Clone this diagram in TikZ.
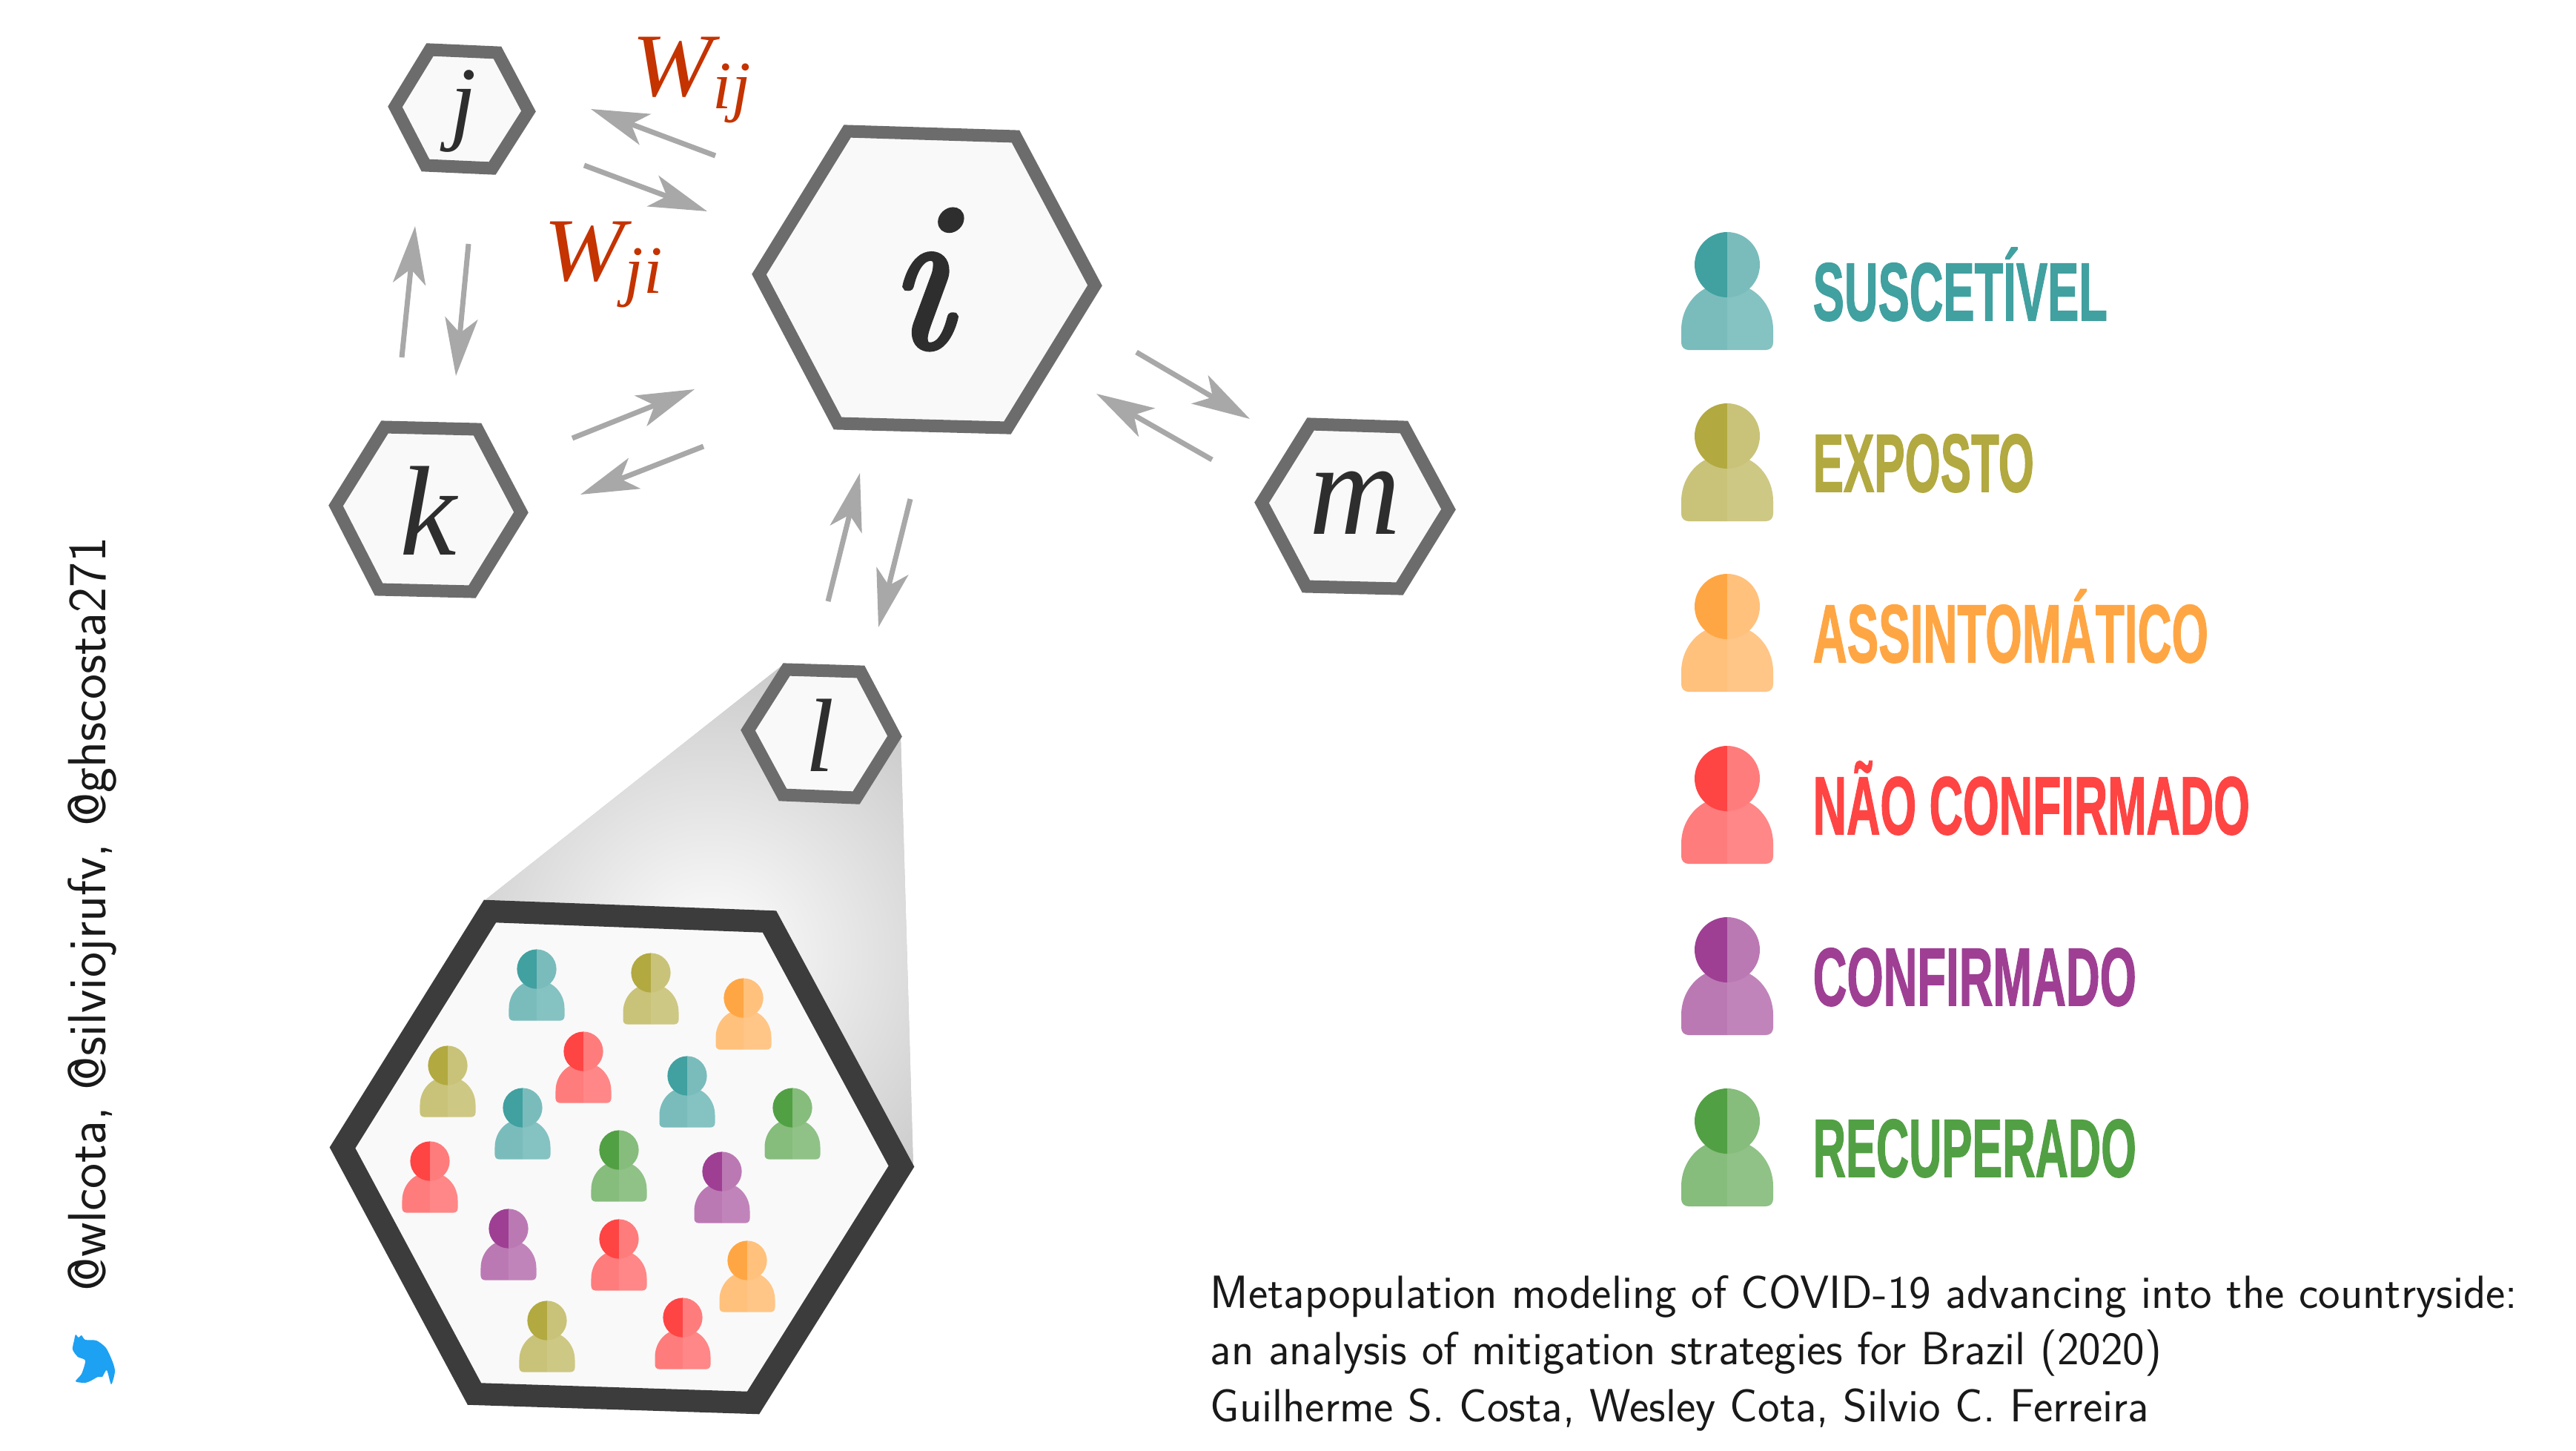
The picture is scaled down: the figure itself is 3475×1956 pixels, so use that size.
\documentclass[tikz,border=0pt]{standalone}
\usepackage{fontspec}
\usetikzlibrary{arrows.meta,calc,shapes.geometric}
\newfontfamily\letterfont{Liberation Serif}
\newfontfamily\bigifont[FakeBold=2.5]{Latin Modern Roman}
\newfontfamily\legendfont[FakeBold=1.5]{Liberation Sans}
\definecolor{hexrim}{HTML}{6C6C6C}
\definecolor{hexfill}{HTML}{F9F9F9}
\definecolor{bigrim}{HTML}{3C3C3C}
\definecolor{arrowgray}{HTML}{A8A8A8}
\definecolor{wred}{HTML}{C43300}
\definecolor{ink}{HTML}{2E2E2E}
\definecolor{bird}{HTML}{1DA1F2}
\definecolor{csus}{HTML}{41A0A0}
\definecolor{cexp}{HTML}{B2A940}
\definecolor{cass}{HTML}{FFA644}
\definecolor{cnao}{HTML}{FF4444}
\definecolor{ccon}{HTML}{9E3F94}
\definecolor{crec}{HTML}{52A044}
\tikzset{
  hexsmall/.style={draw=hexrim,fill=hexfill,line width=0.17cm,line join=miter,miter limit=10},
  hexbig/.style={draw=bigrim,fill=hexfill,line width=0.30cm,line join=miter,miter limit=10},
  flow/.style={draw=arrowgray,line width=0.07cm,-{Stealth[length=0.78cm,width=0.44cm,inset=0.2cm]}},
  letter/.style={text=ink,inner sep=0pt,font=\letterfont\itshape},
  wlabel/.style={text=wred,inner sep=0pt,anchor=base west,font=\letterfont\itshape},
  legendlabel/.style={inner sep=0pt,anchor=base west,font=\legendfont\bfseries\fontsize{31.5}{32}\selectfont},
  credit/.style={inner sep=0pt,anchor=base west,text=black!90,font=\sffamily\fontsize{17.85}{20}\selectfont},
  handle/.style={inner sep=0pt,anchor=base west,rotate=90,text=black!90,font=\sffamily\fontsize{20.6}{22}\selectfont}
}
\newcommand{\flowarrow}[3]{%
  \coordinate (#1-from) at (#2);
  \coordinate (#1-to) at (#3);
  \draw[flow] (#1-from) -- (#1-to);}
\newcommand{\person}[4]{%
  \begin{scope}[shift={(#1,#2)},scale=#3]
    \fill[#4!70!white] (0,115) -- (-52,115) .. controls (-58,115) and (-62,111) .. (-62,105) -- (-62,88) .. controls (-62,55) and (-38,25) .. (0,25) -- cycle;
    \fill[#4!64!white] (0,115) -- (52,115) .. controls (58,115) and (62,111) .. (62,105) -- (62,88) .. controls (62,55) and (38,25) .. (0,25) -- cycle;
    \fill[#4] (0,-44) arc (270:90:44) -- cycle;
    \fill[#4!70!white] (0,-44) arc (270:450:44) -- cycle;
  \end{scope}}
\newcommand{\legendrow}[5]{%
  \person{2330}{#1}{1}{#2}
  \node[legendlabel,text=#2] (#5) at (2445,#1+75) {\resizebox{#4cm}{\height}{#3}};}
\begin{document}
\begin{tikzpicture}[x=0.01cm,y=-0.01cm]
\useasboundingbox (0,0) rectangle (3475,1956);
\fill[white] (0,0) rectangle (3475,1956);

% cone of the zoom
\begin{scope}
  \clip (1057,896) -- (1215,993) -- (1232,1574) -- (653,1215) -- cycle;
  \fill[black!21] (600,880) rectangle (1250,1600);
  \shade[inner color=white,outer color=black!21] (960,1290) circle (410);
\end{scope}

% hexagons
\draw[hexsmall] (1143,177) -- (1370,184) -- (1477,385) -- (1359,577) -- (1130,571) -- (1024,370) -- cycle;
\draw[hexsmall] (580,67) -- (671,71) -- (713,150) -- (664,227) -- (574,223) -- (533,144) -- cycle;
\draw[hexsmall] (519,576) -- (644,579) -- (703,691) -- (637,798) -- (511,795) -- (453,682) -- cycle;
\draw[hexsmall] (1768,572) -- (1894,576) -- (1954,687) -- (1888,794) -- (1762,791) -- (1702,678) -- cycle;
\draw[hexsmall] (1061,903) -- (1161,906) -- (1207,993) -- (1155,1076) -- (1056,1072) -- (1009,985) -- cycle;
\draw[hexbig] (661,1229) -- (1038,1243) -- (1216,1573) -- (1016,1892) -- (640,1880) -- (462,1548) -- cycle;

% letters
\node[letter,font=\bigifont\itshape\fontsize{81}{82}\selectfont] (ni) at (1240,377) {i};
\node[letter,font=\letterfont\itshape\fontsize{36}{36}\selectfont] (nj) at (625,150) {j};
\node[letter,font=\letterfont\itshape\fontsize{49}{49}\selectfont] (nk) at (578,689) {k};
\node[letter,font=\letterfont\itshape\fontsize{51}{51}\selectfont,xscale=0.95] (nm) at (1828,678) {m};
\node[letter,font=\letterfont\itshape\fontsize{40}{40}\selectfont] (nl) at (1106,992) {l};

% weights
\node[wlabel] (wij) at (852,129) {\fontsize{34.5}{35}\selectfont\scalebox{1.08}[1]{W}\raisebox{-0.17cm}{\fontsize{26}{26}\selectfont ij}};
\node[wlabel] (wji) at (733,378) {\fontsize{34.5}{35}\selectfont\scalebox{1.08}[1]{W}\raisebox{-0.17cm}{\fontsize{26}{26}\selectfont ji}};

% flows
\flowarrow{ij}{965,210}{797,147}
\flowarrow{ji}{788,223}{954,285}
\flowarrow{kj}{542,482}{560,305}
\flowarrow{jk}{632,329}{615,507}
\flowarrow{ki}{772,591}{937,525}
\flowarrow{ik}{949,602}{783,667}
\flowarrow{im}{1533,475}{1686,565}
\flowarrow{mi}{1635,620}{1479,531}
\flowarrow{li}{1117,811}{1160,638}
\flowarrow{il}{1228,673}{1185,846}

% people inside the enlarged hexagon
\person{724}{1307}{0.605}{csus}
\person{878}{1312}{0.605}{cexp}
\person{1003}{1346}{0.605}{cass}
\person{787}{1418}{0.605}{cnao}
\person{927}{1451}{0.605}{csus}
\person{604}{1437}{0.605}{cexp}
\person{705}{1494}{0.605}{csus}
\person{1069}{1494}{0.605}{crec}
\person{835}{1551}{0.605}{crec}
\person{580}{1566}{0.605}{cnao}
\person{974}{1580}{0.605}{ccon}
\person{686}{1657}{0.605}{ccon}
\person{835}{1671}{0.605}{cnao}
\person{1008}{1700}{0.605}{cass}
\person{738}{1781}{0.605}{cexp}
\person{921}{1777}{0.605}{cnao}

% legend
\legendrow{357}{csus}{SUSCETÍVEL}{3.97}{lsus}
\legendrow{588}{cexp}{EXPOSTO}{2.98}{lexp}
\legendrow{818}{cass}{ASSINTOMÁTICO}{5.33}{lass}
\legendrow{1050}{cnao}{NÃO CONFIRMADO}{5.89}{lnao}
\legendrow{1281}{ccon}{CONFIRMADO}{4.36}{lcon}
\legendrow{1512}{crec}{RECUPERADO}{4.36}{lrec}

% credits
\node[credit] (c1) at (1632,1764) {Metapopulation modeling of COVID-19 advancing into the countryside:};
\node[credit] (c2) at (1632,1840) {an analysis of mitigation strategies for Brazil (2020)};
\node[credit] (c3) at (1632,1917) {Guilherme S. Costa, Wesley Cota, Silvio C. Ferreira};
\node[handle] (handles) at (143,1742) {@wlcota, @silviojrufv, @ghscosta271};

% bird
\fill[bird] plot[smooth cycle,tension=0.45] coordinates {(102,1800) (106,1804) (110,1801) (115,1807) (130,1808) (143,1818) (152,1837) (155,1850) (150,1867) (144,1848) (138,1857) (132,1857) (123,1862) (115,1865) (102,1863) (110,1853) (115,1835) (105,1830) (98,1820) (100,1808)};
\end{tikzpicture}
\end{document}
